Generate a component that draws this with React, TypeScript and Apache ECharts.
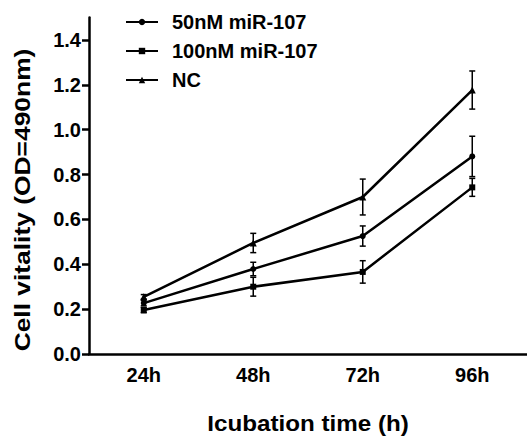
import React, { useEffect, useRef } from "react";
import * as echarts from "echarts";

const categories = ["24h", "48h", "72h", "96h"];
const seriesNames = ["50nM miR-107", "100nM miR-107", "NC"];
const symbols = ["circle", "rect", "triangle"];
const val50 = [0.227, 0.379, 0.526, 0.881];
const err50 = [0.012, 0.03, 0.045, 0.09];
const val100 = [0.196, 0.3, 0.366, 0.743];
const err100 = [0.012, 0.042, 0.05, 0.04];
const valNC = [0.255, 0.495, 0.7, 1.177];
const errNC = [0.01, 0.043, 0.08, 0.085];
const yTicks = [0, 0.2, 0.4, 0.6, 0.8, 1.0, 1.2, 1.4];
const xTitle = "Icubation time (h)";
const yTitle = "Cell vitality (OD=490nm)";

const FONT = "Liberation Sans";

export default function App() {
  const ref = useRef<HTMLDivElement>(null);
  useEffect(() => {
    const chart = echarts.init(ref.current!, null, { renderer: "svg" });
    const values = [val50, val100, valNC];
    const errs = [err50, err100, errNC];
    const lineSeries = values.map((v, i) => ({
      name: seriesNames[i],
      type: "line",
      data: v,
      symbol: symbols[i],
      symbolSize: i === 2 ? 7 : 6,
      showAllSymbol: true,
      lineStyle: { color: "#000", width: 2.5 },
      itemStyle: { color: "#000" },
      z: 3,
    }));
    const errSeries = values.map((v, i) => ({
      type: "custom",
      name: "err" + i,
      silent: true,
      z: 2,
      data: v.map((y, j) => [j, y - errs[i][j], y + errs[i][j]]),
      renderItem: (params: any, api: any) => {
        const x = api.value(0);
        const lo = api.coord([x, api.value(1)]);
        const hi = api.coord([x, api.value(2)]);
        const w = 3;
        const st = { stroke: "#000", lineWidth: 1.5 };
        return {
          type: "group",
          children: [
            { type: "line", shape: { x1: lo[0], y1: lo[1], x2: hi[0], y2: hi[1] }, style: st },
            { type: "line", shape: { x1: lo[0] - w, y1: lo[1], x2: lo[0] + w, y2: lo[1] }, style: st },
            { type: "line", shape: { x1: hi[0] - w, y1: hi[1], x2: hi[0] + w, y2: hi[1] }, style: st },
          ],
        };
      },
    }));
    chart.setOption({
      animation: false,
      grid: { left: 89, top: 17.6, width: 440, bottom: 83, containLabel: false },
      legend: {
        orient: "vertical",
        left: 120,
        top: 7,
        itemGap: 9,
        itemWidth: 32,
        itemHeight: 8,
        data: seriesNames,
        textStyle: { fontFamily: FONT, fontWeight: "bold", fontSize: 20, color: "#000", padding: [0, 0, 0, 9] },
      },
      graphic: [
        {
          type: "text",
          x: 308,
          y: 423,
          scaleX: 1.1,
          style: {
            text: xTitle,
            font: `bold 22px "${FONT}"`,
            fill: "#000",
            textAlign: "center",
            textVerticalAlign: "middle",
          },
        },
        {
          type: "text",
          x: 22,
          y: 200,
          rotation: Math.PI / 2,
          scaleX: 1.2,
          style: {
            text: yTitle,
            font: `bold 22px "${FONT}"`,
            fill: "#000",
            textAlign: "center",
            textVerticalAlign: "middle",
          },
        },
      ],
      xAxis: {
        type: "category",
        data: categories,
        boundaryGap: true,
        axisLine: { lineStyle: { color: "#000", width: 2.5 } },
        axisTick: { inside: true, length: 10, lineStyle: { color: "#000", width: 2.5 } },
        axisLabel: { fontFamily: FONT, fontWeight: "bold", fontSize: 20, color: "#000", margin: 11 },
      },
      yAxis: {
        type: "value",
        min: 0,
        max: 1.5,
        interval: 0.2,
        splitLine: { show: false },
        axisLine: { show: true, lineStyle: { color: "#000", width: 2.5 } },
        axisTick: { show: true, length: 7, customValues: yTicks, lineStyle: { color: "#000", width: 2.5 } },
        axisLabel: {
          customValues: yTicks,
          fontFamily: FONT,
          fontWeight: "bold",
          fontSize: 20,
          color: "#000",
          margin: 8,
          formatter: (v: number) => v.toFixed(1),
        },
      },
      series: [...errSeries, ...lineSeries],
    });
    return () => chart.dispose();
  }, []);
  return <div ref={ref} style={{ width: 527, height: 437, position: "absolute", left: 0, top: 0 }} />;
}
